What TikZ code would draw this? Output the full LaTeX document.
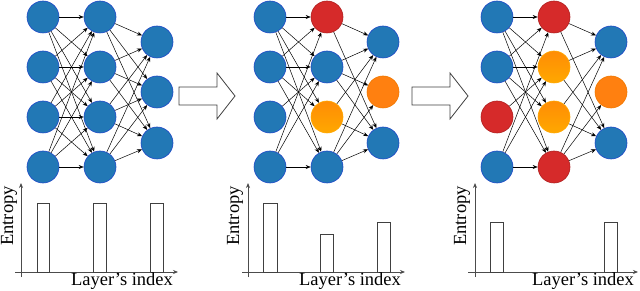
\documentclass[tikz,border=0pt]{standalone}
\usepackage{fontspec}
\setmainfont{Liberation Serif}
\usetikzlibrary{arrows.meta}
\definecolor{nblue}{HTML}{2278B5}
\definecolor{nblueb}{HTML}{1F48C8}
\definecolor{nred}{HTML}{D62A2A}
\definecolor{nredb}{HTML}{B02020}
\definecolor{norange}{HTML}{FF8010}
\definecolor{norangeb}{HTML}{F07800}
\definecolor{gtop}{HTML}{FF8C05}
\definecolor{gbot}{HTML}{FFA800}
\tikzset{
  neuron/.style={circle,minimum size=32pt,inner sep=0pt,line width=0.6pt},
  nb/.style={neuron,fill=nblue,draw=nblueb},
  nr/.style={neuron,fill=nred,draw=nredb},
  no/.style={neuron,fill=norange,draw=norangeb},
  ng/.style={neuron,top color=gtop,bottom color=gbot,draw=gbot},
  edge/.style={-{Stealth[length=5pt,width=4pt]},line width=0.5pt,black},
  axis/.style={-{Stealth[length=5pt,width=4pt]},line width=0.8pt,black!70},
  bar/.style={draw=black!75,line width=0.7pt,fill=white},
  bigarrow/.style={draw=black!75,line width=0.8pt,fill=white},
  lbl/.style={font=\fontsize{18.5}{20}\selectfont,inner sep=0pt}
}
\newcommand{\layidx}{Layer{\char"27}s index}
\begin{document}
\begin{tikzpicture}[x=1pt,y=-1pt]
\useasboundingbox (0,0) rectangle (640,291);
% ---------- panel 1 ----------
\foreach \i/\y in {1/17,2/67,3/117,4/167}{
  \node[nb] (p1a\i) at (43,\y) {};
  \node[nb] (p1b\i) at (100,\y) {};
}
\foreach \i/\y in {1/42,2/92,3/143}{\node[nb] (p1c\i) at (157,\y) {};}
\foreach \i in {1,...,4}{\foreach \j in {1,...,4}{\draw[edge] (p1a\i) -- (p1b\j);}}
\foreach \i in {1,...,4}{\foreach \j in {1,...,3}{\draw[edge] (p1b\i) -- (p1c\j);}}
% ---------- panel 2 ----------
\foreach \i/\y in {1/17,2/67,3/117,4/167}{\node[nb] (p2a\i) at (270,\y) {};}
\node[nr] (p2b1) at (327,17) {};
\node[nb] (p2b2) at (327,67) {};
\node[ng] (p2b3) at (327,117) {};
\node[nb] (p2b4) at (327,167) {};
\node[nb] (p2c1) at (383,42) {};
\node[no] (p2c2) at (383,92) {};
\node[nb] (p2c3) at (383,143) {};
\foreach \i/\j in {1/1,1/2,1/3,1/4,2/1,2/2,2/3,2/4,3/2,4/1,4/2,4/4}{\draw[edge] (p2a\i) -- (p2b\j);}
\foreach \i/\j in {1/1,1/3,2/1,2/2,2/3,3/1,3/3,4/1,4/2,4/3}{\draw[edge] (p2b\i) -- (p2c\j);}
% ---------- panel 3 ----------
\node[nb] (p3a1) at (497,17) {};
\node[nb] (p3a2) at (497,67) {};
\node[nr] (p3a3) at (497,117) {};
\node[nb] (p3a4) at (497,167) {};
\node[nr] (p3b1) at (554,17) {};
\node[ng] (p3b2) at (554,67) {};
\node[ng] (p3b3) at (554,117) {};
\node[nr] (p3b4) at (554,167) {};
\node[nb] (p3c1) at (611,42) {};
\node[no] (p3c2) at (611,92) {};
\node[nb] (p3c3) at (611,143) {};
\foreach \i/\j in {1/1,1/2,1/3,1/4,2/1,2/2,2/3,2/4,3/2,4/1,4/2,4/4}{\draw[edge] (p3a\i) -- (p3b\j);}
\foreach \i/\j in {1/1,1/3,2/1,2/3,3/1,3/3,4/1,4/2,4/3}{\draw[edge] (p3b\i) -- (p3c\j);}
% ---------- big arrows ----------
\draw[bigarrow] (179,87) -- (217,87) -- (217,73) -- (235,96) -- (217,119) -- (217,105) -- (179,105) -- cycle;
\draw[bigarrow] (412,87) -- (450,87) -- (450,73) -- (468,96) -- (450,119) -- (450,105) -- (412,105) -- cycle;
% ---------- chart 1 ----------
\draw[axis] (21,277) -- (21,183);
\draw[axis] (15,272) -- (178,272);
\draw[bar] (37,272) rectangle (49,203);
\draw[bar] (93,272) rectangle (106,203);
\draw[bar] (150,272) rectangle (163,203);
\node[lbl,rotate=90] (e1) at (9,216) {Entropy};
\node[lbl] (l1) at (122,281) {\layidx};
% ---------- chart 2 ----------
\draw[axis] (248,277) -- (248,183);
\draw[axis] (242,272) -- (405,272);
\draw[bar] (263,272) rectangle (277,203);
\draw[bar] (320,272) rectangle (333,234);
\draw[bar] (377,272) rectangle (390,222);
\node[lbl,rotate=90] (e2) at (235,216) {Entropy};
\node[lbl] (l2) at (350,281) {\layidx};
% ---------- chart 3 ----------
\draw[axis] (475,277) -- (475,183);
\draw[axis] (468,272) -- (638,272);
\draw[bar] (490,272) rectangle (503,222);
\draw[bar] (604,272) rectangle (617,222);
\node[lbl,rotate=90] (e3) at (462,216) {Entropy};
\node[lbl] (l3) at (583,281) {\layidx};
\end{tikzpicture}
\end{document}
